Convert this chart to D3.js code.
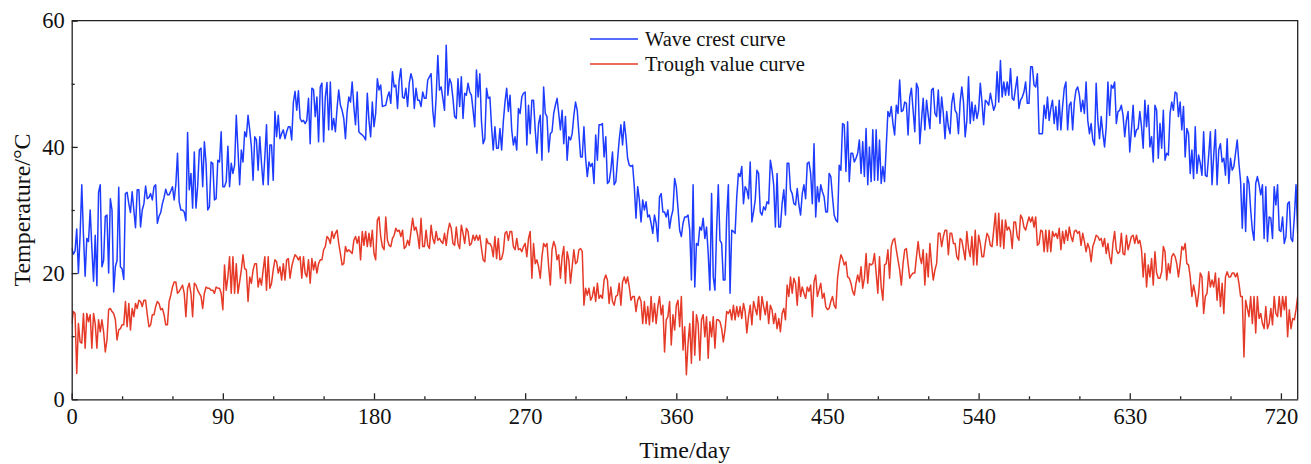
<!DOCTYPE html>
<html>
<head>
<meta charset="utf-8">
<script src="https://cdn.jsdelivr.net/npm/d3@7"></script>
<style>
	body { margin: 0; background: #fff; }
	svg { display: block; font-family: "Liberation Serif", "Times New Roman", serif; }
</style>
</head>
<body>
<script>
// daily peak (crest) and valley (trough) temperature, day 0..730
const crest = [
	24, 23, 23.5, 27, 20, 26, 34, 26, 19.5, 25.5,
	25, 30, 24, 18.7, 26, 18, 32.8, 34, 21, 22,
	29, 29.2, 20, 31.8, 30, 17, 21, 22, 33.6, 21,
	20.7, 19, 32.6, 32.8, 31, 29.6, 32.9, 30, 27.2, 33.2,
	33.2, 27.3, 30, 31, 33.8, 31.8, 32, 32.6, 31.6, 33.7,
	34, 27.9, 29, 29.6, 31, 32, 33.3, 32.4, 32.4, 33,
	33.7, 31.6, 34, 39, 31.3, 30, 30, 29.7, 28.3, 42.3,
	33.2, 35.8, 30.3, 39.2, 30.3, 33.7, 39.5, 39.8, 33.7, 40.8,
	37.4, 30, 30.5, 37.6, 37.4, 31.6, 31.8, 37.9, 37.6, 42.4,
	33.7, 33.7, 34.5, 40.1, 33.7, 37.4, 35.8, 37.1, 45.0, 39.5,
	34.0, 39.5, 37.6, 42.4, 41.6, 45.0, 42.7, 40.0, 34.7, 41.6,
	41.1, 36.3, 41.6, 37.4, 34.0, 38.4, 43.5, 34.0, 40.3, 40.3,
	34.7, 45.6, 41.6, 45.0, 41.3, 42.1, 42.7, 41.3, 42.4, 43.2,
	43.2, 41.1, 47.1, 48.8, 45.8, 48.9, 44.5, 44.0, 44.2, 43.7,
	44.2, 47.7, 40.5, 49.3, 49.1, 44.8, 47.9, 40.8, 49.5, 50.1,
	40.8, 47.9, 50.2, 42.7, 50.3, 42.7, 44.5, 42.4, 46.1, 49.0,
	46.6, 45.8, 44.5, 41.3, 45.6, 47.9, 47.1, 50.3, 46.4, 43.5,
	48.7, 42.4, 42.1, 41.9, 41.6, 41.1, 48.5, 44.2, 41.6, 47.1,
	43.2, 45.3, 50.8, 49.0, 49.8, 46.4, 46.5, 46.6, 47.9, 48.7,
	46.9, 51.9, 49.5, 49.8, 46.1, 50.6, 52.4, 47.9, 47.7, 49.3,
	46.4, 50.1, 51.6, 50.6, 46.1, 49.3, 47.4, 47.4, 46.4, 48.7,
	47.7, 47.7, 50.6, 51.1, 51.6, 45.8, 43.2, 47.9, 54.5, 49.0,
	49.5, 47.7, 45.8, 56.1, 48.2, 50.8, 50.1, 47.7, 44.8, 44.5,
	50.8, 46.4, 51.1, 44.5, 48.5, 48.2, 50.1, 48.7, 48.2, 45.8,
	43.2, 52.2, 47.9, 51.6, 44.0, 40.5, 41.3, 49.3, 47.7, 47.9,
	43.2, 39.5, 43.2, 39.8, 39.8, 42.9, 39.5, 44.0, 47.1, 49.3,
	45.6, 48.2, 42.7, 40.3, 41.6, 39.5, 46.1, 45.3, 47.9, 48.5,
	48.7, 40.3, 46.6, 42.1, 47.4, 47.4, 42.7, 39.0, 43.7, 45.0,
	37.9, 49.5, 45.3, 44.8, 39.2, 42.1, 42.4, 45.3, 46.6, 47.7,
	45.3, 42.7, 45.8, 40.5, 44.8, 37.9, 41.6, 41.1, 42.1, 45.0,
	47.1, 45.8, 42.1, 38.4, 38.4, 43.2, 38.2, 35.3, 37.6, 36.9,
	37.4, 34.2, 41.9, 37.9, 43.5, 43.5, 43.7, 38.4, 41.6, 34.2,
	34.5, 36.3, 39.2, 34.0, 34.5, 37.9, 41.1, 43.5, 40.3, 44.0,
	41.6, 38.2, 37.1, 36.9, 37.1, 33.7, 28.7, 33.7, 31.6, 28.1,
	31.6, 30.0, 31.3, 28.9, 29.2, 27.9, 26.3, 29.2, 27.9, 25.0,
	32.1, 32.6, 29.7, 29.7, 28.9, 30.0, 27.1, 28.9, 30.0, 35.0,
	33.7, 30.3, 26.8, 25.8, 27.9, 28.9, 28.9, 29.2, 26.8, 18.9,
	34.0, 17.8, 24.7, 24.4, 27.3, 26.8, 28.7, 25.5, 27.3, 23.1,
	17.3, 32.6, 19.4, 17.3, 26.8, 34.0, 25.2, 24.7, 18.9, 18.9,
	28.9, 34.0, 16.8, 26.8, 26.6, 26.3, 32.1, 35.8, 35.3, 36.9,
	31.0, 33.7, 33.2, 31.8, 37.6, 28.1, 29.7, 31.6, 36.3, 35.8,
	29.7, 29.2, 30.5, 30.0, 31.3, 31.0, 37.9, 36.3, 34.0, 27.3,
	35.8, 27.3, 27.3, 31.0, 33.2, 29.2, 37.4, 37.4, 33.2, 32.6,
	31.0, 30.8, 33.4, 30.8, 29.2, 32.6, 34.0, 31.8, 37.4, 37.6,
	35.8, 31.0, 40.5, 28.9, 33.7, 31.3, 34.0, 32.9, 32.1, 29.7,
	29.7, 35.8, 35.3, 32.1, 29.2, 28.4, 28.1, 37.1, 36.3, 43.7,
	43.5, 36.1, 44.0, 34.5, 39.0, 39.0, 37.6, 38.2, 39.0, 41.1,
	35.8, 40.8, 35.3, 42.9, 34.0, 40.0, 34.5, 42.7, 34.7, 42.7,
	34.7, 41.1, 34.2, 36.9, 34.5, 40.0, 45.6, 44.8, 46.4, 43.7,
	41.9, 46.6, 45.3, 50.6, 45.6, 45.8, 47.1, 46.9, 41.9, 47.9,
	49.3, 45.8, 42.4, 50.1, 49.3, 40.5, 44.2, 47.7, 42.7, 47.4,
	45.0, 42.9, 49.0, 49.3, 45.3, 44.8, 49.0, 43.7, 47.9, 45.3,
	41.3, 45.6, 43.2, 42.1, 46.9, 48.5, 45.8, 45.3, 42.1, 47.1,
	49.5, 47.1, 41.6, 44.2, 51.1, 43.7, 47.1, 44.2, 46.6, 44.5,
	45.8, 50.1, 47.1, 43.5, 47.4, 47.1, 46.6, 48.5, 47.1, 45.8,
	46.6, 51.9, 47.1, 53.7, 47.9, 50.3, 48.2, 50.3, 48.2, 52.4,
	47.7, 47.4, 49.3, 51.1, 46.1, 47.4, 47.9, 48.7, 50.3, 46.9,
	46.9, 52.7, 52.7, 49.8, 49.5, 51.6, 42.1, 42.1, 42.1, 46.6,
	44.5, 47.9, 44.2, 46.1, 47.4, 43.7, 46.4, 42.7, 47.4, 42.7,
	46.4, 49.3, 50.3, 42.7, 46.6, 47.1, 42.7, 47.1, 49.0, 49.5,
	48.2, 45.6, 47.4, 45.3, 50.3, 44.2, 42.1, 43.7, 41.1, 40.3,
	50.1, 44.2, 41.3, 44.8, 42.1, 40.0, 43.2, 50.3, 45.0, 49.8,
	49.3, 50.3, 43.7, 45.6, 45.8, 46.6, 45.0, 41.6, 44.2, 45.6,
	39.2, 42.7, 46.6, 41.6, 42.7, 42.9, 45.6, 43.2, 39.8, 47.4,
	43.2, 46.6, 40.0, 41.6, 37.6, 46.6, 45.8, 38.2, 43.7, 39.8,
	45.8, 37.9, 39.0, 38.7, 45.3, 47.1, 45.8, 48.7, 48.5, 44.8,
	47.1, 42.7, 46.4, 38.4, 42.9, 42.1, 35.8, 39.5, 35.0, 43.2,
	35.8, 38.7, 37.4, 35.5, 42.4, 35.5, 35.3, 38.7, 42.4, 34.0,
	38.7, 42.7, 34.0, 39.5, 40.5, 37.6, 38.2, 35.5, 41.3, 34.2,
	38.2, 36.3, 36.9, 39.0, 41.1, 37.4, 34.5, 27.1, 34.2, 26.6,
	35.3, 34.2, 30.0, 26.8, 25.2, 34.2, 35.3, 34.0, 32.4, 34.0,
	25.5, 33.7, 25.0, 28.9, 28.7, 25.5, 33.7, 30.8, 34.0, 26.8,
	26.6, 28.9, 24.7, 25.8, 31.0, 31.3, 25.5, 25.0, 28.9, 34.0,
	26.3
];

const trough = [
	12.0, 13.9, 13.6, 4.1, 12.0, 9.1, 8.9, 13.6, 8.1, 13.6,
	12.3, 13.4, 8.1, 13.6, 12.0, 8.1, 12.6, 10.7, 12.6, 10.7,
	7.5, 9.4, 14.2, 14.4, 13.9, 13.6, 12.6, 9.4, 11.0, 11.2,
	11.8, 11.8, 15.5, 11.5, 15.2, 11.0, 14.4, 13.1, 15.2, 14.4,
	15.7, 15.5, 14.7, 15.7, 15.7, 13.4, 11.5, 11.8, 13.4, 13.4,
	14.7, 15.5, 15.2, 14.2, 14.4, 13.4, 11.8, 11.8, 15.5, 16.5,
	17.8, 18.6, 18.6, 16.8, 17.1, 17.6, 18.1, 16.8, 13.1, 17.6,
	18.4, 16.8, 13.1, 18.4, 18.1, 17.3, 16.8, 16.3, 14.4, 16.8,
	17.8, 17.6, 17.6, 17.3, 17.3, 16.8, 17.8, 17.6, 17.6, 16.8,
	14.2, 21.3, 17.3, 19.4, 22.6, 16.8, 22.6, 16.8, 21.5, 16.8,
	18.6, 20.5, 22.9, 20.7, 20.5, 15.5, 19.4, 18.4, 20.5, 21.5,
	21.5, 17.8, 19.2, 18.1, 20.5, 22.6, 17.3, 22.6, 17.6, 18.4,
	20.5, 22.1, 21.8, 20.0, 21.0, 18.9, 21.5, 18.9, 22.1, 22.3,
	19.2, 21.0, 22.1, 22.9, 22.6, 22.1, 22.6, 19.2, 22.6, 20.0,
	19.4, 22.1, 18.4, 22.3, 20.5, 21.8, 20.0, 21.5, 22.1, 22.1,
	23.7, 24.2, 25.8, 25.5, 24.7, 26.6, 25.5, 26.3, 26.8, 24.7,
	23.1, 21.3, 21.5, 24.2, 23.4, 23.7, 23.4, 23.1, 25.2, 25.8,
	24.7, 25.8, 22.1, 26.6, 24.4, 26.6, 24.2, 26.3, 24.2, 26.8,
	23.1, 22.1, 28.4, 28.9, 25.8, 24.2, 23.7, 28.9, 25.2, 24.4,
	24.2, 25.5, 26.0, 27.1, 26.6, 26.8, 25.8, 26.8, 23.9, 24.2,
	25.2, 24.4, 26.6, 28.7, 26.8, 27.3, 26.0, 23.9, 28.7, 24.2,
	24.2, 26.8, 24.4, 23.9, 27.6, 25.5, 24.7, 26.6, 25.2, 25.5,
	25.0, 24.7, 26.3, 24.4, 26.6, 27.9, 27.1, 24.7, 24.4, 27.3,
	24.7, 23.9, 27.6, 26.3, 24.7, 27.1, 26.6, 24.4, 24.7, 26.0,
	25.2, 26.0, 25.2, 26.0, 23.9, 22.1, 21.8, 25.5, 24.7, 24.7,
	24.2, 22.6, 25.8, 22.3, 25.5, 22.1, 22.3, 23.4, 26.3, 26.6,
	25.2, 26.6, 26.6, 24.2, 23.7, 25.5, 23.7, 23.9, 23.4, 24.2,
	24.7, 22.6, 25.5, 26.6, 19.2, 24.7, 21.5, 22.1, 21.0, 19.2,
	22.6, 24.7, 24.2, 24.7, 21.0, 18.1, 23.7, 25.0, 24.2, 22.1,
	22.9, 19.2, 22.6, 24.2, 18.4, 23.4, 22.1, 18.4, 21.0, 23.7,
	21.5, 21.8, 23.7, 23.9, 23.4, 14.9, 17.6, 16.5, 17.6, 15.7,
	16.3, 17.8, 15.5, 18.4, 16.0, 16.5, 16.0, 18.9, 19.7, 18.9,
	15.2, 17.8, 15.5, 14.9, 16.3, 16.5, 18.4, 14.9, 18.6, 19.4,
	18.4, 19.4, 17.8, 15.7, 16.3, 16.3, 13.9, 15.7, 16.3, 15.5,
	12.0, 15.5, 12.0, 14.7, 11.8, 16.3, 12.3, 15.2, 12.0, 14.7,
	16.3, 13.4, 14.9, 7.5, 12.6, 13.1, 15.5, 8.6, 13.4, 11.0,
	14.9, 15.7, 11.5, 16.3, 7.8, 11.5, 3.9, 8.9, 12.0, 5.7,
	13.9, 7.0, 13.4, 12.0, 6.2, 12.6, 13.4, 9.9, 13.1, 6.5,
	12.3, 9.9, 13.1, 8.1, 12.6, 12.6, 12.3, 11.2, 9.1, 11.0,
	13.9, 13.6, 14.2, 12.6, 14.9, 12.6, 14.7, 13.1, 14.7, 12.8,
	15.2, 13.9, 10.5, 13.1, 14.9, 11.8, 15.5, 14.4, 13.4, 16.3,
	12.6, 16.3, 14.7, 13.4, 15.5, 12.0, 14.9, 14.2, 12.0, 13.6,
	11.2, 12.8, 10.7, 13.6, 14.4, 12.6, 18.1, 16.3, 19.4, 16.8,
	19.2, 18.4, 14.9, 19.4, 16.3, 17.8, 16.8, 16.0, 17.8, 17.1,
	18.1, 13.1, 18.6, 19.7, 16.3, 17.3, 18.4, 16.0, 16.8, 14.7,
	14.2, 14.4, 15.5, 16.3, 14.9, 14.4, 19.2, 21.3, 22.9, 22.3,
	21.3, 21.8, 19.4, 19.2, 18.4, 17.1, 16.5, 18.4, 19.7, 18.6,
	21.0, 17.6, 19.2, 23.1, 18.4, 21.5, 21.3, 21.5, 23.1, 20.0,
	16.8, 22.6, 17.8, 15.7, 21.3, 21.5, 23.7, 19.2, 24.2, 25.2,
	25.5, 23.7, 22.1, 20.5, 18.1, 21.5, 23.7, 23.9, 21.5, 19.2,
	19.7, 20.0, 20.0, 22.6, 25.0, 22.6, 21.5, 23.7, 18.1, 23.1,
	19.4, 24.7, 21.3, 18.9, 20.5, 21.5, 26.3, 26.3, 24.2, 25.8,
	26.8, 26.8, 22.9, 26.3, 26.3, 24.7, 24.7, 22.6, 22.1, 25.5,
	25.2, 23.7, 22.1, 26.6, 23.9, 22.6, 25.8, 21.3, 26.8, 21.3,
	26.0, 24.7, 22.6, 22.6, 24.7, 26.3, 25.8, 24.4, 24.2, 26.8,
	29.5, 24.4, 29.5, 24.2, 28.4, 23.9, 28.4, 26.8, 27.3, 26.6,
	23.9, 28.1, 28.1, 25.8, 25.2, 29.2, 28.7, 27.3, 26.8, 27.9,
	28.9, 28.1, 28.9, 27.3, 28.9, 24.4, 24.7, 26.8, 26.6, 23.4,
	26.8, 23.4, 26.8, 23.4, 26.6, 25.8, 26.3, 25.5, 27.1, 23.7,
	26.6, 24.7, 26.8, 25.2, 27.3, 25.8, 25.0, 26.6, 26.8, 26.3,
	26.6, 24.4, 26.3, 25.0, 23.4, 24.7, 23.9, 21.8, 24.2, 25.0,
	26.0, 25.8, 25.2, 25.5, 24.2, 25.5, 23.1, 24.7, 22.6, 21.5,
	24.7, 26.6, 23.7, 23.1, 23.4, 26.3, 23.1, 22.9, 26.0, 23.7,
	24.7, 25.8, 26.0, 24.7, 26.0, 24.7, 25.2, 23.7, 19.4, 23.1,
	17.8, 21.3, 19.4, 22.3, 18.1, 23.4, 20.0, 19.2, 19.2, 20.2,
	24.2, 23.4, 18.9, 21.5, 20.0, 22.6, 23.1, 22.6, 21.5, 19.4,
	21.5, 24.2, 23.7, 24.7, 21.5, 21.3, 19.4, 16.3, 18.1, 16.8,
	14.7, 16.8, 20.0, 19.4, 13.6, 16.3, 16.8, 20.2, 17.8, 18.9,
	17.8, 20.0, 15.7, 19.2, 14.7, 18.4, 13.6, 19.4, 20.2, 19.4,
	19.4, 20.0, 20.0, 19.4, 20.0, 18.4, 16.3, 16.3, 6.7, 15.7,
	14.4, 13.1, 16.3, 12.0, 16.3, 10.5, 16.3, 12.8, 13.6, 12.0,
	11.2, 14.7, 11.2, 12.0, 14.4, 11.8, 16.3, 13.6, 13.1, 16.3,
	13.1, 16.3, 14.2, 16.3, 9.9, 14.2, 11.2, 12.8, 12.6, 14.2,
	16.3
];

const seriesNames = ["Wave crest curve", "Trough value curve"];
const seriesColors = ["#1d3cff", "#e63a28"];
const xTicks = [0, 90, 180, 270, 360, 450, 540, 630, 720];
const xMinor = d3.range(30, 730, 30).filter(d => d % 90 !== 0);
const yTicks = [0, 20, 40, 60];
const yMinor = [10, 30, 50];

const W = 1311, H = 464;
const margin = {top: 20.7, right: 13.3, bottom: 64.7, left: 71.7};

let svg = d3.select('body')
	.append('svg')
	.attr('width', W)
	.attr('height', H);

//scales
const x = d3.scaleLinear()
	.domain([0, 730])
	.range([margin.left, W - margin.right]);

const y = d3.scaleLinear()
	.domain([0, 60])
	.range([H - margin.bottom, margin.top]);

svg.append('clipPath')
	.attr('id', 'plot')
	.append('rect')
	.attr('x', margin.left)
	.attr('y', margin.top)
	.attr('width', W - margin.left - margin.right)
	.attr('height', H - margin.top - margin.bottom);

//lines
const line = d3.line()
	.x((d, i) => x(i))
	.y(d => y(d));

[crest, trough].forEach((s, k) => {
	svg.append('path')
		.datum(s)
		.attr('clip-path', 'url(#plot)')
		.attr('fill', 'none')
		.attr('stroke', seriesColors[k])
		.attr('stroke-width', 1.5)
		.attr('stroke-linejoin', 'round')
		.attr('d', line);
});

//axes, ticks point inward
const xAxis = d3.axisBottom(x)
	.tickValues(xTicks)
	.tickSizeInner(-6)
	.tickSizeOuter(0)
	.tickPadding(9);

const yAxis = d3.axisLeft(y)
	.tickValues(yTicks)
	.tickSizeInner(-6)
	.tickSizeOuter(0)
	.tickPadding(7);

let xAxisGroup = svg.append('g')
	.attr('transform', `translate(0,${y(0)})`)
	.call(xAxis);

svg.append('g')
	.attr('transform', `translate(0,${y(0)})`)
	.call(d3.axisBottom(x).tickValues(xMinor).tickSize(-3).tickFormat(''))
	.call(g => g.select('.domain').remove());

let yAxisGroup = svg.append('g')
	.attr('transform', `translate(${x(0)},0)`)
	.call(yAxis);

svg.append('g')
	.attr('transform', `translate(${x(0)},0)`)
	.call(d3.axisLeft(y).tickValues(yMinor).tickSize(-3).tickFormat(''))
	.call(g => g.select('.domain').remove());

svg.selectAll('.tick line, .domain')
	.attr('stroke', '#222')
	.attr('stroke-width', 1.3);

[xAxisGroup, yAxisGroup].forEach(g => g.selectAll('.tick text')
	.attr('font-family', '"Liberation Serif", serif')
	.attr('font-size', 22.5)
	.attr('fill', '#111'));

//frame top + right
svg.append('path')
	.attr('fill', 'none')
	.attr('stroke', '#222')
	.attr('stroke-width', 1.3)
	.attr('d', `M${x(0)},${y(60)}H${x(730)}V${y(0)}`);

//axis titles
svg.append('text')
	.attr('x', (x(0) + x(730)) / 2)
	.attr('y', 458)
	.attr('text-anchor', 'middle')
	.attr('font-size', 24)
	.attr('fill', '#111')
	.text('Time/day');

svg.append('text')
	.attr('transform', `translate(30,${(y(0) + y(60)) / 2}) rotate(-90)`)
	.attr('text-anchor', 'middle')
	.attr('font-size', 24)
	.attr('fill', '#111')
	.text('Temperature/°C');

//legend
const legend = svg.append('g')
	.selectAll('g')
	.data(seriesNames)
	.join('g')
		.attr('transform', (d, i) => `translate(590,${39 + i * 25})`);

legend.append('line')
	.attr('x2', 48)
	.attr('stroke', (d, i) => seriesColors[i])
	.attr('stroke-width', 1.5);

legend.append('text')
	.attr('x', 55)
	.attr('dy', '0.35em')
	.attr('font-size', 20.5)
	.attr('fill', '#111')
	.text(d => d);
</script>
</body>
</html>
